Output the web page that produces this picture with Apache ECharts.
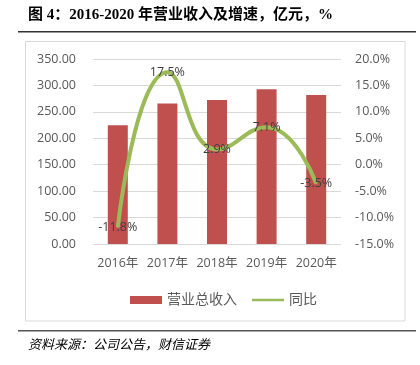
<!DOCTYPE html>
<html>
<head>
<meta charset="utf-8">
<script src="https://cdn.jsdelivr.net/npm/echarts@6/dist/echarts.min.js"></script>
<style>
  html, body { margin: 0; padding: 0; background: #fff; }
  #chart { width: 420px; height: 365px; }
</style>
</head>
<body>
<div id="chart"></div>
<script>
// 数据
const years = ["2016年", "2017年", "2018年", "2019年", "2020年"];
const revenue = [224.5, 266, 272.5, 293, 282];
const yoy = [-11.8, 17.5, 2.9, 7.1, -3.5];

const chart = echarts.init(document.getElementById("chart"));

const labelFont = "'Open Sans', 'Noto Sans CJK SC', sans-serif";
const gray = "#595959";

chart.setOption({
  animation: false,
  backgroundColor: "#fff",
  textStyle: { fontFamily: labelFont },
  grid: { left: 93, right: 79, top: 59, bottom: 121 },
  graphic: [
    {
      type: "text",
      left: 28,
      top: 8,
      style: {
        text: "图 4：2016-2020 年营业收入及增速，亿元，%",
        font: "bold 15px 'Liberation Serif', 'Noto Sans CJK SC', serif",
        fill: "#000",
      },
    },
    {
      type: "rect",
      shape: { x: 18, y: 31, width: 398, height: 1.5 },
      style: { fill: "#333" },
    },
    {
      type: "rect",
      shape: { x: 25.5, y: 41.5, width: 379.5, height: 279.5 },
      style: { fill: "none", stroke: "#d9d9d9", lineWidth: 1 },
    },
    {
      type: "rect",
      shape: { x: 18, y: 330, width: 398, height: 1.5 },
      style: { fill: "#555" },
    },
    {
      type: "text",
      left: 28,
      top: 338,
      style: {
        text: "资料来源：公司公告，财信证券",
        font: "italic 13px 'Noto Sans CJK SC', sans-serif",
        fill: "#000",
      },
    },
  ],
  legend: {
    top: 288,
    left: 125,
    itemGap: 15,
    itemWidth: 32,
    itemHeight: 8,
    textStyle: { color: gray, fontSize: 14 },
    data: [
      { name: "营业总收入", icon: "rect" },
      {
        name: "同比",
        icon: "path://M0,0 L40,0 L40,3 L0,3 Z",
        itemStyle: { color: "#9bbb59", opacity: 1 },
      },
    ],
  },
  xAxis: {
    type: "category",
    data: years,
    axisLine: { show: false },
    axisTick: { show: false },
    axisLabel: { color: gray, fontSize: 12.5, margin: 13, interval: 0 },
  },
  yAxis: [
    {
      type: "value",
      min: 0,
      max: 350,
      interval: 50,
      axisLabel: {
        color: gray,
        fontSize: 12.5,
        margin: 17,
        formatter: (v) => v.toFixed(2),
      },
      splitLine: { lineStyle: { color: "#d9d9d9" } },
    },
    {
      type: "value",
      min: -15,
      max: 20,
      interval: 5,
      axisLabel: {
        color: gray,
        fontSize: 12.5,
        margin: 14,
        formatter: (v) => v.toFixed(1) + "%",
      },
      splitLine: { show: false },
    },
  ],
  series: [
    {
      name: "营业总收入",
      type: "bar",
      data: revenue,
      barWidth: 20,
      itemStyle: { color: "#c0504d" },
    },
    {
      name: "同比",
      type: "line",
      yAxisIndex: 1,
      data: yoy,
      smooth: 0.5,
      symbol: "circle",
      symbolSize: 2,
      showSymbol: true,
      lineStyle: { color: "#9bbb59", width: 4 },
      itemStyle: { color: "#9bbb59" },
      label: {
        show: true,
        position: "inside",
        color: "#404040",
        fontSize: 12.5,
        formatter: (p) => p.value.toFixed(1) + "%",
      },
      labelLayout: { hideOverlap: false },
      z: 3,
    },
  ],
});
</script>
</body>
</html>
